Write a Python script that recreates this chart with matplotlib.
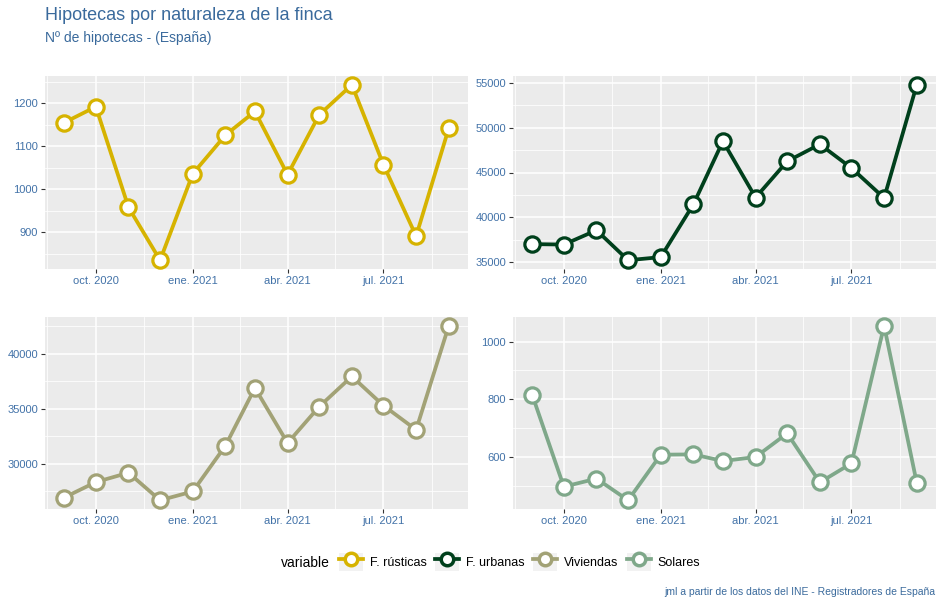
import pandas as pd
import matplotlib.pyplot as plt
from matplotlib.lines import Line2D
from matplotlib.patches import Rectangle
from matplotlib.legend_handler import HandlerLine2D
from matplotlib.ticker import MultipleLocator

plt.rcParams['font.family'] = ['Liberation Sans', 'DejaVu Sans']

months = pd.date_range('2020-09-01', periods=13, freq='MS')

rusticas = [1155, 1192, 958, 835, 1036, 1126, 1181, 1034, 1173, 1243, 1057, 891, 1142]
urbanas = [37000, 36950, 38550, 35200, 35550, 41450, 48500, 42200, 46250, 48150, 45500, 42150, 54800]
viviendas = [26950, 28350, 29200, 26700, 27500, 31650, 36900, 31900, 35200, 37950, 35300, 33100, 42550]
solares = [815, 497, 525, 450, 608, 609, 586, 600, 682, 512, 578, 1055, 510]

series_names = ['F. rústicas', 'F. urbanas', 'Viviendas', 'Solares']
series_values = [rusticas, urbanas, viviendas, solares]
colors = ['#D6B300', '#00401C', '#A2A276', '#7FA88A']
y_steps = [100, 5000, 5000, 200]

x_ticks = pd.to_datetime(['2020-10-01', '2021-01-01', '2021-04-01', '2021-07-01'])
x_labels = ['oct. 2020', 'ene. 2021', 'abr. 2021', 'jul. 2021']
x_minor = pd.to_datetime(['2020-08-16', '2020-11-16', '2021-02-15', '2021-05-16', '2021-08-16'])

TICK_COLOR = '#4272A8'
TEXT_COLOR = '#3A6A9C'


class KeyHandler(HandlerLine2D):
    # ggplot-like legend key with grey background
    def create_artists(self, legend, orig_handle, xdescent, ydescent, width, height, fontsize, trans):
        artists = super().create_artists(legend, orig_handle, xdescent, ydescent, width, height, fontsize, trans)
        bg = Rectangle((-xdescent, -ydescent), width, height, facecolor='#F2F2F2',
                       edgecolor='none', transform=trans)
        return [bg] + list(artists)


def style_axes(ax, step):
    ax.set_facecolor('#EBEBEB')
    for s in ax.spines.values():
        s.set_visible(False)
    ax.yaxis.set_major_locator(MultipleLocator(step))
    ax.yaxis.set_minor_locator(MultipleLocator(step / 2))
    ax.set_xticks(x_ticks)
    ax.set_xticklabels(x_labels)
    ax.set_xticks(x_minor, minor=True)
    ax.grid(which='major', color='white', linewidth=1.1)
    ax.grid(which='minor', color='white', linewidth=0.55)
    ax.set_axisbelow(True)
    ax.tick_params(which='major', length=3, width=0.8, color='#333333',
                   labelsize=8, labelcolor=TICK_COLOR, pad=2)
    ax.tick_params(which='minor', length=0)


def main():
    fig = plt.figure(figsize=(9.44, 6.07), dpi=100)
    W, H = 944, 607
    boxes = [(45, 76, 468, 269), (513, 76, 936, 269), (45, 317, 468, 509), (513, 317, 936, 509)]

    for (x0, y0, x1, y1), vals, col, step in zip(boxes, series_values, colors, y_steps):
        ax = fig.add_axes([x0 / W, 1 - y1 / H, (x1 - x0) / W, (y1 - y0) / H])
        ax.plot(months, vals, color=col, linewidth=2.7, marker='o', markersize=11,
                markerfacecolor='white', markeredgecolor=col, markeredgewidth=2.3, zorder=3)
        ax.margins(x=0.05, y=0.05)
        style_axes(ax, step)
        ax.set_xlim(months[0] - pd.Timedelta(days=18.25), months[-1] + pd.Timedelta(days=18.25))

    # Titles
    fig.text(45 / W, 1 - 15 / H, 'Hipotecas por naturaleza de la finca', fontsize=13,
             color=TEXT_COLOR, va='center', ha='left')
    fig.text(45 / W, 1 - 38 / H, 'Nº de hipotecas - (España)', fontsize=10,
             color=TEXT_COLOR, va='center', ha='left')

    # Legend
    handles = [Line2D([], [], color=c, linewidth=2.7, marker='o', markersize=9,
                      markerfacecolor='white', markeredgecolor=c, markeredgewidth=2.5)
               for c in colors]
    fig.text(281 / W, 1 - 563 / H, 'variable', fontsize=10, color='black', va='center', ha='left')
    fig.legend(handles, series_names, loc='center left', bbox_to_anchor=(339 / W, 1 - 562 / H),
               ncol=4, frameon=False, fontsize=9, handlelength=1.9, handleheight=1.9,
               handletextpad=0.55, columnspacing=0.7, borderpad=0, borderaxespad=0,
               handler_map={Line2D: KeyHandler()})

    # Caption
    fig.text(935 / W, 1 - 592 / H, 'jml a partir de los datos del INE - Registradores de España',
             fontsize=7.5, color=TEXT_COLOR, va='center', ha='right')

    fig.savefig('out.png', dpi=100)
    plt.close()


if __name__ == '__main__':
    main()
